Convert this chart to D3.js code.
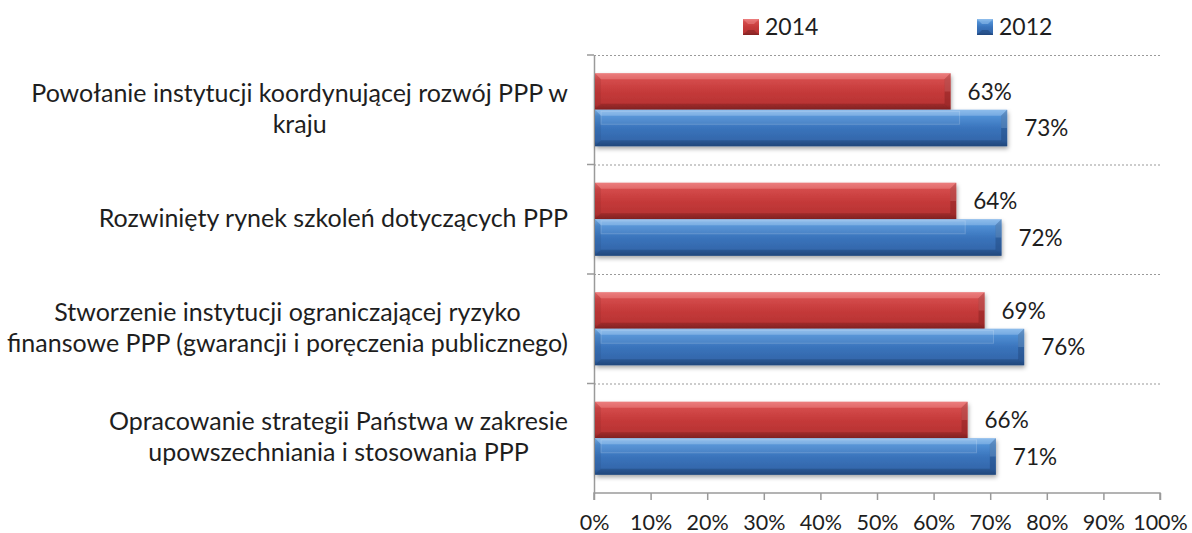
<!DOCTYPE html>
<html>
<head>
<meta charset="utf-8">
<script src="https://cdn.jsdelivr.net/npm/d3@7"></script>
<style>
  body { margin: 0; background: #fff; }
  text { font-family: Lato, "Open Sans", sans-serif; fill: #1e1e1e; }
</style>
</head>
<body>
<script>
// data
let categories = [
  ["Powołanie instytucji koordynującej rozwój PPP w", "kraju"],
  ["Rozwinięty rynek szkoleń dotyczących PPP"],
  ["Stworzenie instytucji ograniczającej ryzyko", "finansowe PPP (gwarancji i poręczenia publicznego)"],
  ["Opracowanie strategii Państwa w zakresie", "upowszechniania i stosowania PPP"]
]
let seriesNames = ["2014", "2012"]
let values2014 = [0.63, 0.64, 0.69, 0.66]
let values2012 = [0.73, 0.72, 0.76, 0.71]
let tickValues = [0, 0.1, 0.2, 0.3, 0.4, 0.5, 0.6, 0.7, 0.8, 0.9, 1]

let width = 1192, height = 533
let catFont = 25, valueFont = 22.5, tickFont = 21.5, legendFont = 23

let svg = d3.select("body")
    .append("svg")
    .attr("width", width)
    .attr("height", height)

let defs = svg.append("defs")

function barGradient(id, stops){
  let g = defs.append("linearGradient").attr("id", id)
      .attr("x1", 0).attr("y1", 0).attr("x2", 0).attr("y2", 1)
  stops.forEach(s => g.append("stop").attr("offset", s[0]).attr("stop-color", s[1]))
}
barGradient("red", [[0, "#e87474"], [0.18, "#d44b4b"], [0.5, "#c53a3a"], [0.85, "#b83333"], [1, "#8a2424"]])
barGradient("blue", [[0, "#84b6e8"], [0.18, "#5090d5"], [0.5, "#3a74bc"], [0.85, "#3367ab"], [1, "#234b83"]])

let shadow = defs.append("filter").attr("id", "shadow")
    .attr("x", "-5%").attr("y", "-30%").attr("width", "110%").attr("height", "170%")
shadow.append("feDropShadow").attr("dx", 1).attr("dy", 2.5).attr("stdDeviation", 2)
    .attr("flood-color", "#000").attr("flood-opacity", 0.35)

let colors = {"2014": {fill: "url(#red)", dark: "#7a1f1f", light: "#ef8a8a"},
              "2012": {fill: "url(#blue)", dark: "#1f4273", light: "#9cc6ef"}}

let x = d3.scaleLinear().domain([0, 1]).range([594, 1160])
let y = d3.scaleBand().domain(d3.range(categories.length)).range([55, 493])
let ySub = d3.scaleBand().domain(seriesNames).range([0, y.bandwidth()]).paddingOuter(0.5)

// dotted gridlines at category boundaries
svg.selectAll(".grid")
  .data(d3.range(categories.length))
  .enter().append("line")
    .attr("x1", x(0)).attr("x2", x(1))
    .attr("y1", d => y(d) + 0.5).attr("y2", d => y(d) + 0.5)
    .attr("stroke", "#9a9a9a").attr("stroke-width", 1.2)
    .attr("stroke-dasharray", "2,2")

// x axis
let xAxis = d3.axisBottom(x).tickValues(tickValues).tickSize(7).tickPadding(0)
    .tickFormat(d3.format(".0%"))
let gx = svg.append("g").attr("transform", "translate(0,493)").call(xAxis)
gx.select(".domain").attr("stroke", "#9a9a9a").attr("stroke-width", 1.5)
  .attr("d", "M" + x(0) + ",7V0H" + x(1) + "V7")
gx.selectAll(".tick line").attr("stroke", "#9a9a9a").attr("stroke-width", 1.5)
gx.selectAll(".tick text").attr("font-size", tickFont).attr("dy", null).attr("y", 36.5)
  .attr("fill", "#1e1e1e").attr("font-family", "Lato")

// y axis line with ticks pointing left at boundaries
let yAxis = d3.axisLeft(y).tickValues([]).tickSizeOuter(0)
let gy = svg.append("g").attr("transform", "translate(" + x(0) + ",0)").call(yAxis)
gy.select(".domain").attr("stroke", "#9a9a9a").attr("stroke-width", 1.5)
gy.selectAll(".bound")
  .data(d3.range(categories.length))
  .enter().append("line")
    .attr("x1", -7).attr("x2", 0)
    .attr("y1", d => y(d)).attr("y2", d => y(d))
    .attr("stroke", "#9a9a9a").attr("stroke-width", 1.5)

// bars
let barData = []
categories.forEach((c, i) => {
  barData.push({cat: i, s: "2014", v: values2014[i], other: null})
  barData.push({cat: i, s: "2012", v: values2012[i], other: values2014[i]})
})

let bars = svg.selectAll(".bar").data(barData).enter().append("g").attr("class", "bar")

bars.each(function(d){
  let g = d3.select(this)
  let x0 = x(0) + 1, x1 = x(d.v)
  let y0 = y(d.cat) + ySub(d.s), h = ySub.bandwidth()
  let b = 6
  let col = colors[d.s]
  g.append("rect")
    .attr("x", x0).attr("y", y0).attr("width", x1 - x0).attr("height", h)
    .attr("fill", col.fill).attr("filter", "url(#shadow)")
  // top bevel
  g.append("path")
    .attr("d", `M${x0},${y0}H${x1}L${x1 - b},${y0 + b}H${x0 + b}Z`)
    .attr("fill", col.light).attr("opacity", 0.45)
  // bottom bevel
  g.append("path")
    .attr("d", `M${x0},${y0 + h}H${x1}L${x1 - b},${y0 + h - b}H${x0 + b}Z`)
    .attr("fill", col.dark).attr("opacity", 0.45)
  // right end facet
  g.append("path")
    .attr("d", `M${x1},${y0}V${y0 + h}L${x1 - b},${y0 + h - b}V${y0 + b}Z`)
    .attr("fill", col.dark).attr("opacity", 0.4)
  g.append("path")
    .attr("d", `M${x1},${y0}L${x1 - b},${y0 + b}L${x1 - b},${y0 + h / 2}L${x1},${y0 + h / 2}Z`)
    .attr("fill", col.light).attr("opacity", 0.25)
  // left end facet
  g.append("path")
    .attr("d", `M${x0},${y0}V${y0 + h}L${x0 + b},${y0 + h - b}V${y0 + b}Z`)
    .attr("fill", col.dark).attr("opacity", 0.15)
  // faint reflection of the neighbouring bar
  if (d.other != null){
    g.append("rect")
      .attr("x", x0 + b).attr("y", y0 + 1.5)
      .attr("width", x(d.other) + 9 - x0 - b).attr("height", 13)
      .attr("fill", "#ffffff").attr("fill-opacity", 0.05)
      .attr("stroke", "#ffffff").attr("stroke-opacity", 0.18).attr("stroke-width", 1)
  }
  g.append("text")
    .attr("x", x1 + 17).attr("y", y0 + h / 2 + 8)
    .attr("font-size", valueFont)
    .text(d3.format(".0%")(d.v))
})

// category labels, lines centred inside a right-aligned block
let lineH = 31
categories.forEach((lines, i) => {
  let t = svg.append("text").attr("font-size", catFont).attr("text-anchor", "middle")
  let spans = lines.map(l => t.append("tspan").text(l))
  let w = d3.max(spans, s => s.node().getComputedTextLength())
  let cx = 568 - w / 2
  let cy = y(i) + y.bandwidth() / 2
  spans.forEach((s, k) => {
    s.attr("x", cx).attr("y", cy + (k - (lines.length - 1) / 2) * lineH + 7.5)
  })
})

// legend
let legendX = {"2014": 743, "2012": 977}
seriesNames.forEach(s => {
  let g = svg.append("g").attr("transform", `translate(${legendX[s]},19)`)
  g.append("rect").attr("width", 16).attr("height", 16).attr("fill", colors[s].fill)
  g.append("path").attr("d", "M0,0H16L11,5H5Z").attr("fill", colors[s].light).attr("opacity", 0.5)
  g.append("path").attr("d", "M0,16H16L11,11H5Z").attr("fill", colors[s].dark).attr("opacity", 0.5)
  g.append("text").attr("x", 22).attr("y", 16).attr("font-size", legendFont).text(s)
})
</script>
</body>
</html>
